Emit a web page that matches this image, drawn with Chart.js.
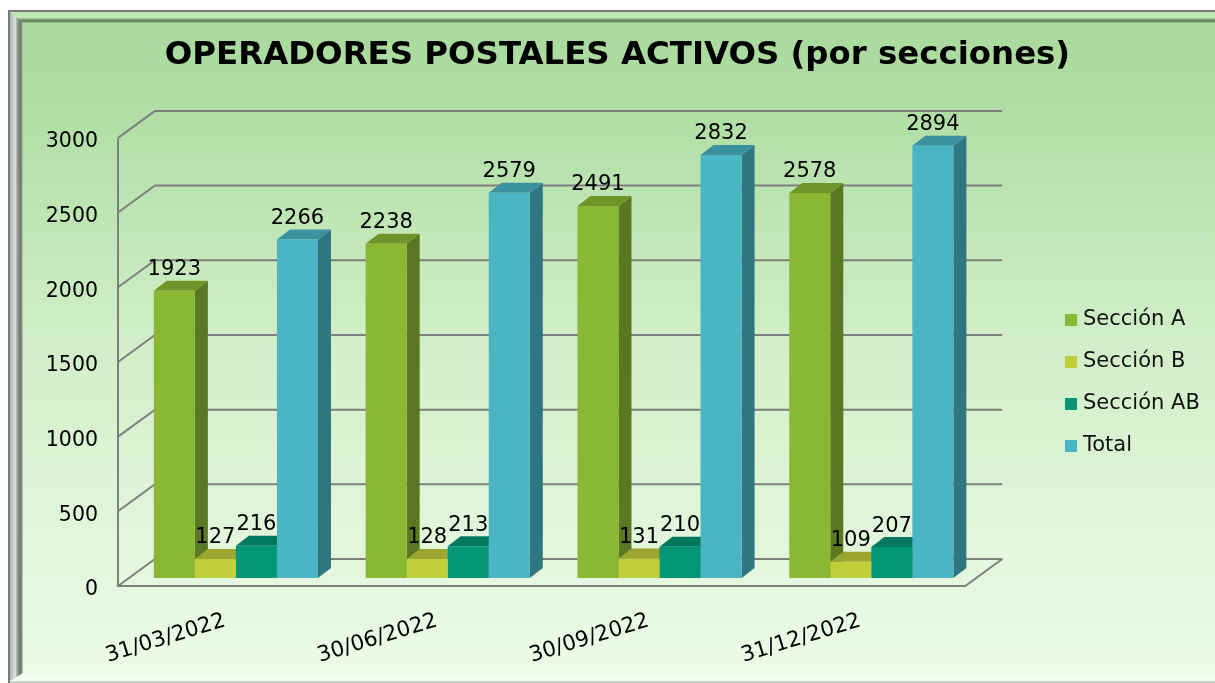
<!DOCTYPE html>
<html>
<head>
<meta charset="utf-8">
<title>Operadores postales activos</title>
<script src="https://cdn.jsdelivr.net/npm/chart.js@4"></script>
<style>
html,body{margin:0;padding:0;background:#fff;overflow:hidden}
#wrap{position:relative;width:1215px;height:683px}
</style>
</head>
<body>
<div id="wrap"><canvas id="c" width="1215" height="683"></canvas></div>
<script>
const chartTitle = 'OPERADORES POSTALES ACTIVOS (por secciones)';
const categories = ['31/03/2022', '30/06/2022', '30/09/2022', '31/12/2022'];
const seccionA = [1923, 2238, 2491, 2578];
const seccionB = [127, 128, 131, 109];
const seccionAB = [216, 213, 210, 207];
const total = [2266, 2579, 2832, 2894];
const seriesNames = ['Sección A', 'Sección B', 'Sección AB', 'Total'];
const frontColors = ['#8ab833', '#c0cf3a', '#029676', '#4ab5c4'];
const topColors = ['#6f9429', '#9aa62f', '#02785f', '#3b919d'];
const sideColors = ['#5a7821', '#7d8726', '#01624d', '#307680'];

const FONT = '"DejaVu Sans", Verdana, sans-serif';
const DEPTH = {x: 13, y: -10};           // bar depth
const FRONT = {x: -12, y: 8};            // axis plane relative to bar plane
const BACK = {x: 25, y: -19};            // back wall relative to bar plane

function swatch(color) {
  const s = document.createElement('canvas');
  s.width = 12; s.height = 12;
  const x = s.getContext('2d');
  x.fillStyle = color;
  x.fillRect(0, 0, 12, 12);
  return s;
}
const swatches = frontColors.map(swatch);

const framePlugin = {
  id: 'frame',
  beforeDraw(chart) {
    const ctx = chart.ctx, W = chart.width, H = chart.height;
    ctx.save();
    ctx.fillStyle = '#fff';
    ctx.fillRect(0, 0, W, H);
    const g = ctx.createLinearGradient(0, 10, 0, H);
    g.addColorStop(0, '#a9d99c');
    g.addColorStop(0.15, '#b0dea5');
    g.addColorStop(0.5, '#d2efc9');
    g.addColorStop(1, '#edfce9');
    ctx.fillStyle = g;
    ctx.fillRect(8, 10, W - 8, H - 10);
    const tb = ctx.createLinearGradient(0, 12, 0, 23);
    tb.addColorStop(0, '#b9e6ae');
    tb.addColorStop(0.5, '#c3ecb8');
    tb.addColorStop(0.62, '#8fb386');
    tb.addColorStop(0.82, '#5b7656');
    tb.addColorStop(1, '#a5cf99');
    ctx.fillStyle = tb;
    ctx.beginPath();
    ctx.moveTo(10, 12); ctx.lineTo(W, 12); ctx.lineTo(W, 23); ctx.lineTo(23, 23);
    ctx.closePath();
    ctx.fill();
    const lb = ctx.createLinearGradient(10, 0, 23, 0);
    lb.addColorStop(0, '#a9b5a6');
    lb.addColorStop(0.4, '#dbe5d8');
    lb.addColorStop(0.6, '#8d948b');
    lb.addColorStop(0.85, '#6e746c');
    lb.addColorStop(1, '#c4dcbe');
    ctx.fillStyle = lb;
    ctx.beginPath();
    ctx.moveTo(10, 12); ctx.lineTo(23, 23); ctx.lineTo(23, 673); ctx.lineTo(10, 681);
    ctx.closePath();
    ctx.fill();
    ctx.fillStyle = '#f4fdf1';
    ctx.beginPath();
    ctx.moveTo(23, 674); ctx.lineTo(W, 674); ctx.lineTo(W, 681); ctx.lineTo(10, 681);
    ctx.closePath();
    ctx.fill();
    ctx.fillStyle = '#7a7a7a';
    ctx.fillRect(8, 10, W - 8, 2);
    ctx.fillRect(8, 10, 2, H - 10);
    ctx.fillStyle = '#c9cec8';
    ctx.fillRect(10, 681, W - 10, 2);
    ctx.restore();
  }
};

const wallPlugin = {
  id: 'walls',
  beforeDatasetsDraw(chart) {
    const ctx = chart.ctx, y = chart.scales.y, a = chart.chartArea;
    ctx.save();
    ctx.strokeStyle = '#7f7f7f';
    ctx.lineWidth = 2;
    ctx.lineJoin = 'miter';
    const fl = a.left + FRONT.x, fr = a.right + FRONT.x;
    const bl = a.left + BACK.x, br = a.right + BACK.x;
    y.ticks.forEach(t => {
      const p = y.getPixelForValue(t.value);
      ctx.beginPath();
      ctx.moveTo(fl, p + FRONT.y);
      ctx.lineTo(bl, p + BACK.y);
      ctx.lineTo(br, p + BACK.y);
      ctx.stroke();
    });
    const p0 = y.getPixelForValue(0), pMax = y.getPixelForValue(y.max);
    ctx.beginPath();
    ctx.moveTo(fl, pMax + FRONT.y);
    ctx.lineTo(fl, p0 + FRONT.y);
    ctx.lineTo(fr, p0 + FRONT.y);
    ctx.lineTo(br, p0 + BACK.y);
    ctx.stroke();
    // depth faces, left to right; native fronts are painted afterwards
    for (let c = 0; c < categories.length; c++) {
      chart.data.datasets.forEach((ds, i) => {
        const bar = chart.getDatasetMeta(i).data[c];
        const h = bar.width / 2, l = bar.x - h, r = bar.x + h, t = bar.y, b = bar.base;
        ctx.fillStyle = sideColors[i];
        ctx.beginPath();
        ctx.moveTo(r, t); ctx.lineTo(r + DEPTH.x, t + DEPTH.y);
        ctx.lineTo(r + DEPTH.x, b + DEPTH.y); ctx.lineTo(r, b);
        ctx.closePath(); ctx.fill();
        ctx.fillStyle = topColors[i];
        ctx.beginPath();
        ctx.moveTo(l, t); ctx.lineTo(r, t);
        ctx.lineTo(r + DEPTH.x, t + DEPTH.y); ctx.lineTo(l + DEPTH.x, t + DEPTH.y);
        ctx.closePath(); ctx.fill();
      });
    }
    ctx.restore();
  }
};

const valueLabels = {
  id: 'valueLabels',
  afterDatasetsDraw(chart) {
    const ctx = chart.ctx;
    ctx.save();
    ctx.fillStyle = '#000';
    ctx.font = '21px ' + FONT;
    ctx.textAlign = 'center';
    ctx.textBaseline = 'middle';
    chart.data.datasets.forEach((ds, i) => {
      chart.getDatasetMeta(i).data.forEach((bar, c) => {
        ctx.fillText(String(ds.data[c]), bar.x, bar.y - 21);
      });
    });
    ctx.restore();
  }
};

const placeBlocks = {
  id: 'placeBlocks',
  afterLayout(chart) {
    const l = chart.legend;
    const w = l.width, h = l.height;
    l.left = 1048.5; l.right = l.left + w;
    l.top = 383 - h / 2; l.bottom = l.top + h;
    const t = chart.titleBlock;
    t.left = 30; t.right = 1205;
  }
};

new Chart(document.getElementById('c'), {
  type: 'bar',
  data: {
    labels: categories,
    datasets: [
      {label: seriesNames[0], data: seccionA, backgroundColor: frontColors[0]},
      {label: seriesNames[1], data: seccionB, backgroundColor: frontColors[1]},
      {label: seriesNames[2], data: seccionAB, backgroundColor: frontColors[2]},
      {label: seriesNames[3], data: total, backgroundColor: frontColors[3]}
    ]
  },
  plugins: [framePlugin, wallPlugin, valueLabels, placeBlocks],
  options: {
    responsive: false,
    animation: false,
    devicePixelRatio: 1,
    barPercentage: 1,
    categoryPercentage: 0.775,
    layout: {padding: {left: 20, right: 76.5, top: 10, bottom: 0}},
    plugins: {
      tooltip: {enabled: false},
      title: {
        display: true,
        text: chartTitle,
        color: '#000',
        font: {family: FONT, size: 32.4, weight: 'bold', lineHeight: 1.2},
        padding: {top: 26.5, bottom: 54.5}
      },
      legend: {
        display: true,
        position: 'right',
        align: 'center',
        labels: {
          color: '#111',
          font: {family: FONT, size: 21},
          usePointStyle: true,
          pointStyleWidth: 3,
          boxHeight: 12,
          padding: 21,
          generateLabels(chart) {
            return Chart.defaults.plugins.legend.labels.generateLabels(chart)
              .map((it, i) => ({...it, pointStyle: swatches[i]}));
          }
        }
      }
    },
    scales: {
      x: {
        grid: {display: false},
        border: {display: false},
        afterFit(s) { s.height = 105; },
        ticks: {
          color: '#000',
          font: {family: FONT, size: 21.5},
          maxRotation: 17,
          minRotation: 17,
          padding: 22,
          labelOffset: -11
        }
      },
      y: {
        min: 0,
        max: 3000,
        afterFit(s) { s.width = 110; },
        grid: {display: false},
        border: {display: false},
        ticks: {
          stepSize: 500,
          color: '#000',
          font: {family: FONT, size: 20.5},
          padding: 24,
          labelOffset: 12,
          callback: v => String(v)
        }
      }
    }
  }
});
</script>
</body>
</html>
